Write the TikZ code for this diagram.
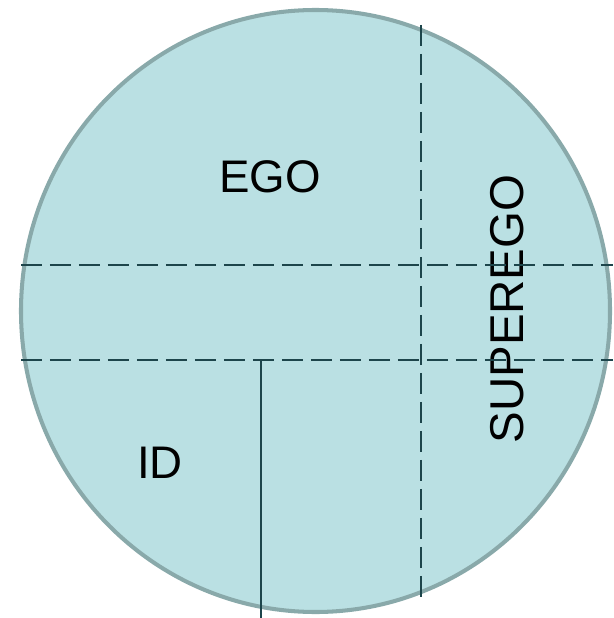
\documentclass[tikz,border=0pt]{standalone}
\usepackage{fontspec}
\setmainfont{Liberation Sans}
\usepackage{tikz}
\definecolor{psychefill}{HTML}{BAE0E3}
\definecolor{psycheedge}{HTML}{89A9AA}
\definecolor{psycheline}{HTML}{1D454B}
\tikzset{
	partlabel/.style={font=\fontsize{26}{31}\selectfont, text=black, inner sep=0pt},
	divider/.style={draw=psycheline, line width=1.15pt, dash pattern=on 0.42cm off 0.16cm},
	border/.style={draw=psycheline, line width=1.15pt}
}

\begin{document}
\begin{tikzpicture}[x=0.02cm, y=-0.02cm]
				\useasboundingbox (0,0) rectangle (613,618);
				% the mind as one disc
				\draw[psycheedge, fill=psychefill, line width=2.3pt] (315.5,311) ellipse [x radius=294.5, y radius=301];
				\node[partlabel] (ego) at (270,177) {EGO};
				\node[partlabel] (id) at (160,463) {ID};
				\node[partlabel, font=\fontsize{27}{32}\selectfont, rotate=90] (superego) at (507,309) {SUPEREGO};
				% dividing lines
				\coordinate (upperL) at (21,265);
				\coordinate (upperR) at (613,265);
				\coordinate (lowerL) at (21,360);
				\coordinate (lowerR) at (613,360);
				\coordinate (sideT) at (421,25);
				\coordinate (sideB) at (421,601);
				\coordinate (idT) at (261,360);
				\coordinate (idB) at (261,618);
				\draw[divider] (upperL) -- (upperR);
				\draw[divider] (lowerL) -- (lowerR);
				\draw[divider] (sideT) -- (sideB);
				\draw[border] (idT) -- (idB);
			\end{tikzpicture}
\end{document}
